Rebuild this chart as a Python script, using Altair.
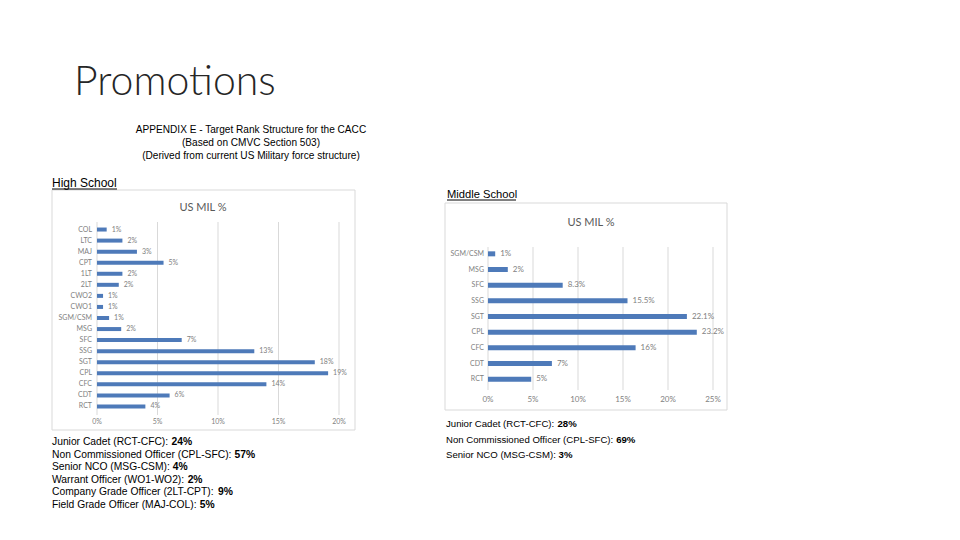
import altair as alt
import pandas as pd

# ---------------- data ----------------
hs_ranks = ["COL", "LTC", "MAJ", "CPT", "1LT", "2LT", "CWO2", "CWO1", "SGM/CSM",
            "MSG", "SFC", "SSG", "SGT", "CPL", "CFC", "CDT", "RCT"]
hs_values = [0.8, 2.1, 3.3, 5.5, 2.1, 1.8, 0.5, 0.5, 1.0,
             2.0, 7.0, 13.0, 18.0, 19.1, 14.0, 6.0, 4.0]
hs_labels = ["1%", "2%", "3%", "5%", "2%", "2%", "1%", "1%", "1%",
             "2%", "7%", "13%", "18%", "19%", "14%", "6%", "4%"]
hs_ticks = [0, 5, 10, 15, 20]

ms_ranks = ["SGM/CSM", "MSG", "SFC", "SSG", "SGT", "CPL", "CFC", "CDT", "RCT"]
ms_values = [0.8, 2.2, 8.3, 15.5, 22.1, 23.2, 16.4, 7.1, 4.8]
ms_labels = ["1%", "2%", "8.3%", "15.5%", "22.1%", "23.2%", "16%", "7%", "5%"]
ms_ticks = [0, 5, 10, 15, 20, 25]

header_lines = ["APPENDIX E - Target Rank Structure for the CACC",
                "(Based on CMVC Section 503)",
                "(Derived from current US Military force structure)"]

hs_sum_text = ["Junior Cadet (RCT-CFC): ",
               "Non Commissioned Officer (CPL-SFC): ",
               "Senior NCO (MSG-CSM): ",
               "Warrant Officer (WO1-WO2): ",
               "Company Grade Officer (2LT-CPT): ",
               "Field Grade Officer (MAJ-COL): "]
hs_sum_pct = ["24%", "57%", "4%", "2%", "9%", "5%"]

ms_sum_text = ["Junior Cadet (RCT-CFC): ",
               "Non Commissioned Officer (CPL-SFC): ",
               "Senior NCO (MSG-CSM): "]
ms_sum_pct = ["28%", "69%", "3%"]

# ---------------- style ----------------
BLUE = "#4e7ab9"
GRID = "#d9d9d9"
LABEL = "#7f7f7f"
TITLE = "#595959"
CHART_FONT = "Lato"
DOC_FONT = "Liberation Sans"

# Arial / Liberation Sans advance widths (per 1000 em) to place bold runs
_W = {" ": 278, "(": 333, ")": 333, "-": 333, ":": 278, "%": 889}
_W.update({d: 556 for d in "0123456789"})
_W.update(dict(zip("ABCDEFGHIJKLMNOPQRSTUVWXYZ",
                   [667, 667, 722, 722, 667, 611, 778, 722, 278, 500, 667, 556, 833,
                    722, 778, 667, 778, 722, 667, 611, 722, 667, 944, 667, 667, 611])))
_W.update(dict(zip("abcdefghijklmnopqrstuvwxyz",
                   [556, 556, 500, 556, 556, 278, 556, 556, 222, 222, 500, 222, 833,
                    556, 556, 556, 556, 333, 500, 278, 556, 500, 722, 500, 500, 500])))


def text_width(s, size):
    return sum(_W.get(c, 556) for c in s) * size / 1000.0


one = pd.DataFrame({"k": [0]})


def txt(s, x, y, size, font=DOC_FONT, weight="normal", color="#000000",
        align="left", baseline="middle"):
    return alt.Chart(one).mark_text(
        text=s, font=font, fontSize=size, fontWeight=weight, color=color,
        align=align, baseline=baseline
    ).encode(x=alt.value(x), y=alt.value(y))


def box(x1, x2, y1, y2):
    return alt.Chart(one).mark_rect(fill="white", stroke=GRID, strokeWidth=1).encode(
        x=alt.value(x1), x2=alt.value(x2), y=alt.value(y1), y2=alt.value(y2))


def hline(x1, x2, y, color="#000000", w=1):
    return alt.Chart(one).mark_rule(color=color, strokeWidth=w).encode(
        x=alt.value(x1), x2=alt.value(x2), y=alt.value(y))


def panel(ranks, values, labels, ticks, x_range, y_range, grid_y, tick_y,
          cat_x, bar_size, fs, cat_fs):
    df = pd.DataFrame({"rank": ranks, "value": values, "label": labels})
    tdf = pd.DataFrame({"tick": ticks, "tlabel": [f"{t}%" for t in ticks]})
    xs = alt.Scale(domain=[ticks[0], ticks[-1]], range=x_range, nice=False)
    ys = alt.Scale(domain=ranks, range=y_range, paddingInner=0, paddingOuter=0)
    grid = alt.Chart(tdf).mark_rule(color=GRID, strokeWidth=1).encode(
        x=alt.X("tick:Q", scale=xs, axis=None),
        y=alt.value(grid_y[0]), y2=alt.value(grid_y[1]))
    tlab = alt.Chart(tdf).mark_text(font=CHART_FONT, fontSize=fs, color=LABEL,
                                    baseline="middle").encode(
        x=alt.X("tick:Q", scale=xs, axis=None), y=alt.value(tick_y),
        text="tlabel:N")
    bars = alt.Chart(df).mark_bar(size=bar_size, color=BLUE).encode(
        x=alt.X("value:Q", scale=xs, axis=None),
        y=alt.Y("rank:N", scale=ys, axis=None))
    blab = alt.Chart(df).mark_text(font=CHART_FONT, fontSize=fs, color=LABEL,
                                   align="left", baseline="middle", dx=5).encode(
        x=alt.X("value:Q", scale=xs, axis=None),
        y=alt.Y("rank:N", scale=ys, axis=None), text="label:N")
    clab = alt.Chart(df).mark_text(font=CHART_FONT, fontSize=cat_fs, color=LABEL,
                                   align="right", baseline="middle").encode(
        x=alt.value(cat_x), y=alt.Y("rank:N", scale=ys, axis=None),
        text="rank:N")
    return alt.layer(grid, bars, blab, clab, tlab)


back = []
front = []

# slide title
back.append(txt("Promotions", 66, 87, 41, font="Lato", weight=300,
                color="#262626", baseline="alphabetic"))

# appendix header
for i, line in enumerate(header_lines):
    back.append(txt(line, 243, 122 + i * 13, 10.1, align="center"))

# panel boxes (drawn beneath the panels)
back.append(box(44, 347, 182, 422))
back.append(box(437, 719, 195, 402))

# section headings
front.append(txt("High School", 44, 179, 12, baseline="alphabetic"))
front.append(hline(44, 109, 181))
front.append(txt("Middle School", 439, 190, 11.2, baseline="alphabetic"))
front.append(hline(439, 508, 192))

# chart titles
front.append(txt("US MIL %", 195, 200, 11, font=CHART_FONT, color=TITLE,
                 align="center"))
front.append(txt("US MIL %", 583, 215, 11, font=CHART_FONT, color=TITLE,
                 align="center"))

# panels
hs = panel(hs_ranks, hs_values, hs_labels, hs_ticks, [89, 331], [216, 404],
           [214, 407], 414, 84, 4, 7, 7)
ms = panel(ms_ranks, ms_values, ms_labels, ms_ticks, [480, 705], [238, 379],
           [239, 382], 392, 476, 5, 8, 7)

# summaries (normal run + bold percentage right after it)
HS_FS = 10.3
for i, (t, p) in enumerate(zip(hs_sum_text, hs_sum_pct)):
    y = 434 + i * 12.6
    front.append(txt(t, 44, y, HS_FS))
    front.append(txt(p, 44 + text_width(t, HS_FS), y, HS_FS, weight="bold"))

MS_FS = 9.6
for i, (t, p) in enumerate(zip(ms_sum_text, ms_sum_pct)):
    y = 416 + i * 15.5
    front.append(txt(t, 438, y, MS_FS))
    front.append(txt(p, 438 + text_width(t, MS_FS), y, MS_FS, weight="bold"))

chart = alt.layer(*back, hs, ms, *front).resolve_scale(
    x="independent", y="independent"
).properties(
    width=944, height=524, padding=0,
    autosize=alt.AutoSizeParams(type="none"),
    background="white",
).configure_view(stroke=None)

chart.save("out.html", embed_options={"renderer": "svg", "actions": False})
